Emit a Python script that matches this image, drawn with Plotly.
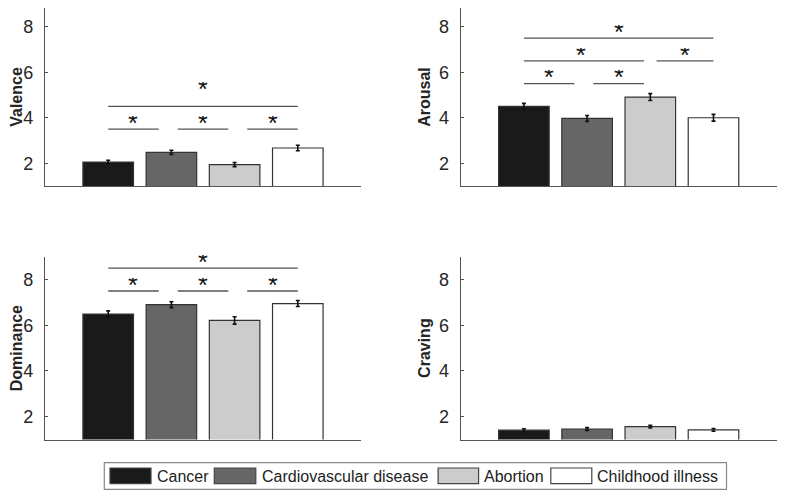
import plotly.graph_objects as go

# ---------------- data ----------------
categories = ["Cancer", "Cardiovascular disease", "Abortion", "Childhood illness"]
bar_colors = ["#1a1a1a", "#666666", "#cccccc", "#ffffff"]
x_pos = [1, 2, 3, 4]

panels = ["Valence", "Arousal", "Dominance", "Craving"]
valence = [2.05, 2.48, 1.94, 2.67]
valence_err = [0.08, 0.09, 0.09, 0.12]
arousal = [4.50, 3.97, 4.91, 4.00]
arousal_err = [0.13, 0.13, 0.15, 0.15]
dominance = [6.49, 6.90, 6.21, 6.95]
dominance_err = [0.14, 0.13, 0.16, 0.13]
craving = [1.41, 1.46, 1.56, 1.42]
craving_err = [0.06, 0.06, 0.06, 0.06]

y_ticks = [2, 4, 6, 8]

# significance bars: (x start, x end, y level)
valence_sig_lines = [(1.0, 1.8, 3.5), (2.1, 2.9, 3.5), (3.2, 4.0, 3.5), (1.0, 4.0, 4.5)]
valence_sig_stars = [(1.4, 4.0), (2.5, 4.0), (3.6, 4.0), (2.5, 5.5)]
arousal_sig_lines = [(1.0, 1.8, 5.5), (2.1, 2.9, 5.5), (1.0, 2.9, 6.5), (3.1, 4.0, 6.5), (1.0, 4.0, 7.5)]
arousal_sig_stars = [(1.4, 6.0), (2.5, 6.0), (1.9, 7.0), (3.55, 7.0), (2.5, 8.0)]
dominance_sig_lines = [(1.0, 1.8, 7.5), (2.1, 2.9, 7.5), (3.2, 4.0, 7.5), (1.0, 4.0, 8.5)]
dominance_sig_stars = [(1.4, 8.0), (2.5, 8.0), (3.6, 8.0), (2.5, 9.0)]
craving_sig_lines = []
craving_sig_stars = []

values = [valence, arousal, dominance, craving]
errors = [valence_err, arousal_err, dominance_err, craving_err]
sig_lines = [valence_sig_lines, arousal_sig_lines, dominance_sig_lines, craving_sig_lines]
sig_stars = [valence_sig_stars, arousal_sig_stars, dominance_sig_stars, craving_sig_stars]

# ---------------- layout geometry ----------------
# the page body has an 8px margin, so the figure is 8px smaller and
# all reference pixel positions are shifted by that amount
OFF = 8
W, H = 787 - OFF, 492 - OFF


def px(xp):
    return (xp - OFF) / W


def py(yp):
    return min(1.0, max(0.0, 1 - (yp - OFF) / H))


Y_MIN, Y_MAX = 1, 9
# reference pixel rows of each panel (bottom = value 1, top = value 9)
rows = [(186.0, 4.0), (439.5, 256.7)]
x_domains = [[px(45), px(361)], [px(460.7), px(776.7)]]
y_domains, y_ranges = [], []
for (bot, top) in rows:
    scale = (bot - top) / (Y_MAX - Y_MIN)
    vis_top = max(top, OFF)
    y_domains.append([py(bot), py(vis_top)])
    y_ranges.append([Y_MIN, Y_MIN + (bot - vis_top) / scale])
panel_dom = [(0, 0), (1, 0), (0, 1), (1, 1)]

AXIS_COLOR = "#555555"
TEXT_COLOR = "#262626"
FONT = "Liberation Sans, Arial, sans-serif"

fig = go.Figure()
annotations = []
shapes = []

for i, name in enumerate(panels):
    ax = "" if i == 0 else str(i + 1)
    xref, yref = "x" + ax, "y" + ax
    for j in range(4):
        fig.add_trace(go.Bar(
            x=[x_pos[j]], y=[values[i][j]], width=0.8,
            marker=dict(color=bar_colors[j], line=dict(color="#333333", width=1.2)),
            error_y=dict(type="data", array=[errors[i][j]], color="#111111", thickness=1.6, width=2),
            xaxis=xref, yaxis=yref, showlegend=False, hoverinfo="skip"))
    for (x0, x1, yl) in sig_lines[i]:
        fig.add_trace(go.Scatter(
            x=[x0, x1], y=[yl, yl], mode="lines",
            line=dict(color="#555555", width=1.4),
            xaxis=xref, yaxis=yref, showlegend=False, hoverinfo="skip", cliponaxis=False))
    for (xs, ys) in sig_stars[i]:
        annotations.append(dict(
            x=xs, y=ys, xref=xref, yref=yref, text="*", showarrow=False,
            font=dict(family=FONT, size=25, color="#111111"),
            height=14, valign="middle",
            xanchor="center", yanchor="middle", yshift=-5))
    dx, dy = panel_dom[i]
    fig.layout["xaxis" + ax] = dict(
        domain=x_domains[dx], range=[0, 5], showticklabels=False, ticks="",
        showgrid=False, zeroline=False, showline=True, linecolor=AXIS_COLOR,
        linewidth=1.3, anchor=yref, fixedrange=True)
    fig.layout["yaxis" + ax] = dict(
        domain=y_domains[dy], range=y_ranges[dy], tickvals=y_ticks,
        ticks="inside", ticklen=3, tickcolor=AXIS_COLOR, tickwidth=1,
        showgrid=False, zeroline=False, showline=True, linecolor=AXIS_COLOR,
        linewidth=1.3, anchor=xref, ticklabelstandoff=7,
        tickfont=dict(family=FONT, size=18, color=TEXT_COLOR),
        title=dict(text="<b>" + name + "</b>", standoff=4,
                   font=dict(family=FONT, size=16, color=TEXT_COLOR)),
        fixedrange=True)

# ---------------- custom legend ----------------
legend_box = (104.3, 462.7, 726.5, 489.3)
swatch_x = [110, 214.3, 438.1, 550.8]
swatch_w = [41, 41.5, 40.5, 41]
text_x = [155.7, 260.7, 483.4, 595.8]

shapes.append(dict(type="rect", xref="paper", yref="paper",
                   x0=px(legend_box[0]), x1=px(legend_box[2]),
                   y0=py(legend_box[3]), y1=py(legend_box[1]),
                   line=dict(color="#888888", width=1.2), fillcolor="white"))
for j, cat in enumerate(categories):
    shapes.append(dict(type="rect", xref="paper", yref="paper",
                       x0=px(swatch_x[j]), x1=px(swatch_x[j] + swatch_w[j]),
                       y0=py(483.7), y1=py(468),
                       line=dict(color="#444444", width=1.2), fillcolor=bar_colors[j]))
    annotations.append(dict(x=px(text_x[j] - 1), y=py(476), xref="paper", yref="paper",
                            text=cat, showarrow=False, xanchor="left", yanchor="middle",
                            font=dict(family=FONT, size=16, color="#222222")))

fig.update_layout(
    width=W, height=H, margin=dict(l=0, r=0, t=0, b=0),
    paper_bgcolor="white", plot_bgcolor="white",
    barmode="overlay", annotations=annotations, shapes=shapes,
    font=dict(family=FONT))

fig.write_html("out.html")
